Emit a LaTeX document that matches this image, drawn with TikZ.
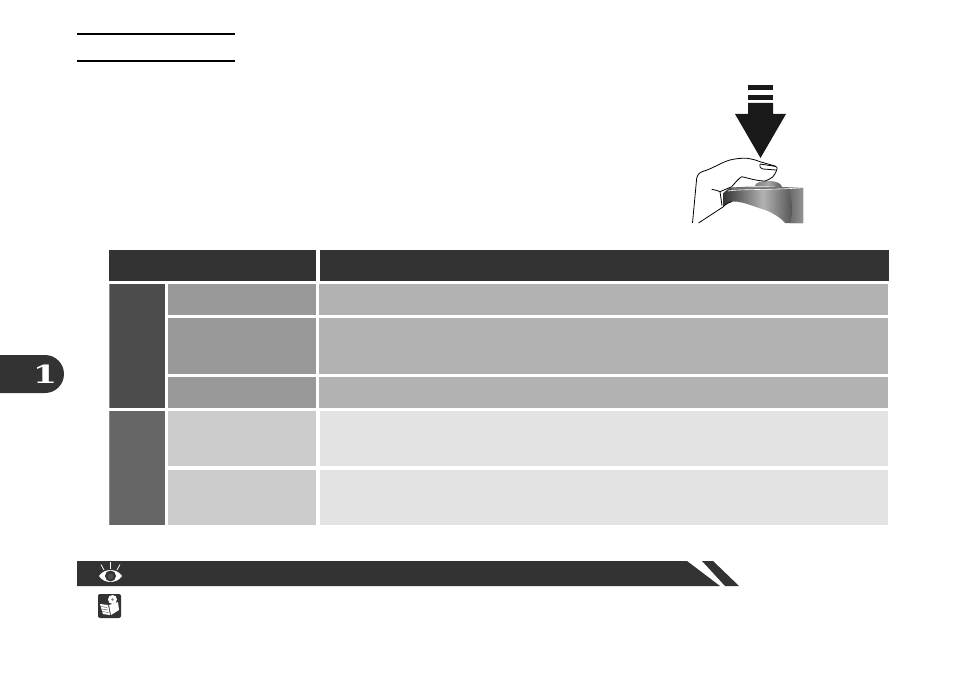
\documentclass[tikz,border=0pt]{standalone}
\usepackage{tikz}
\usepackage{fontspec}
\usetikzlibrary{positioning}
\newfontfamily\tabfont{DejaVu Serif}
\definecolor{headgray}{gray}{0.2}
\definecolor{groupa}{gray}{0.3}
\definecolor{groupb}{gray}{0.4}
\definecolor{labela}{gray}{0.6}
\definecolor{texta}{gray}{0.7}
\definecolor{labelb}{gray}{0.8}
\definecolor{textb}{gray}{0.89}
\tikzset{
	cell/.style ={rectangle, inner sep=0pt, outer sep=0pt},
	head_cell/.style ={cell, fill=headgray, minimum height=31pt},
	group_cell/.style ={cell, fill=#1, minimum width=56pt},
	label_cell/.style ={cell, fill=#1, minimum width=148pt},
	text_cell/.style ={cell, fill=#1, minimum width=569pt},
	rule/.style ={draw=black, line width=2pt},
	handline/.style ={draw=black, line width=0.8pt, line join=round},
}
\begin{document}
\begin{tikzpicture}[x=1pt,y=-1pt]
	\useasboundingbox (0,0) rectangle (954,677);
	% rules at the top
	\coordinate (ruleA) at (77,34);
	\coordinate (ruleB) at (235,34);
	\coordinate (ruleC) at (77,60.7);
	\coordinate (ruleD) at (235,60.7);
	\draw[rule] (ruleA) -- (ruleB);
	\draw[rule] (ruleC) -- (ruleD);
	% arrow
	\fill[black!90] (748,85) rectangle (773,90);
	\fill[black!90] (748,95) rectangle (773,100);
	\fill[black!90] (748,103) -- (773,103) -- (773,114) -- (786,114) -- (760.5,158) -- (735,114) -- (748,114) -- cycle;
	% camera
	\shade[left color=black!80, right color=black!80, middle color=black!30]
		(723,192) .. controls (726,189) and (729,188) .. (732,187.5) -- (750,186.5) -- (783,187) -- (803,188)
		-- (803,223) -- (785,223) .. controls (781,218) and (772,212) .. (762,209)
		.. controls (752,206) and (742,201) .. (732,201.5) .. controls (729,202) and (726,204) .. (723,207) -- cycle;
	\shade[left color=black!60, right color=black!42] (788,189) -- (803,188) -- (803,223) -- (790,223) .. controls (794,210) and (792,198) .. (788,189) -- cycle;
	\fill[black!55] (732,188) -- (783,187) -- (783,189) -- (732,190) -- cycle;
	\shade[left color=black!50, right color=black!65, middle color=black!35] (755,186) .. controls (755,183) and (760,181) .. (768,181) .. controls (776,181) and (781,183) .. (782,187) -- cycle;
	\draw[white, line width=0.6pt] (728,191) .. controls (740,189) and (770,190) .. (800,188);
	% hand
	\fill[white] (693,223) -- (696.7,178) .. controls (698,174) and (700,172) .. (702,171.7)
		.. controls (712,169) and (722,162) .. (730,160) .. controls (736,158.5) and (742,158) .. (747,158.3)
		.. controls (752,159) and (756,160) .. (760,161.7) -- (775,166) .. controls (777,167) and (777.5,168) .. (777,169)
		.. controls (776,173) and (774,175) .. (773,176.7) .. controls (770,179) and (768,180) .. (765,181)
		-- (742,177) -- (722,194) -- (723,207) -- (699,223) -- cycle;
	\draw[handline] (692.5,223) -- (696.7,178) .. controls (698,174) and (700,172) .. (702,171.7)
		.. controls (712,169) and (722,162) .. (730,160) .. controls (736,158.5) and (742,158) .. (747,158.3)
		.. controls (752,159) and (756,160) .. (760,161.7) -- (775,166) .. controls (777,167) and (777.5,168) .. (777,169)
		.. controls (776,173) and (774,175) .. (773,176.7) .. controls (770,179) and (768,180) .. (765,181)
		.. controls (757,181) and (748,178) .. (741.7,176.7) .. controls (738,179) and (735,183) .. (731.7,186.7);
	\draw[handline] (760,164) -- (776,166.5);
	\draw[handline] (760,164) .. controls (759,166) and (760,168) .. (763,169) -- (776,170);
	\draw[handline] (711.7,189.3) .. controls (715,190) and (718,190.5) .. (720,191.7) -- (722,205.5);
	\draw[handline] (698.5,223) -- (723,207) .. controls (726,204) and (729,202) .. (732,201.5);
	\draw[handline] (720,191.7) -- (731.7,186.7);
	% table
	\node[head_cell, minimum width=207pt, anchor=north west] (headLeft) at (109,250) {};
	\node[head_cell, minimum width=569pt, right=4pt of headLeft] (headRight) {};
	\node[group_cell=groupa, minimum height=124pt, anchor=north west] (groupOne) at (109,284) {};
	\node[group_cell=groupb, minimum height=114pt, below=3pt of groupOne] (groupTwo) {};
	\node[label_cell=labela, minimum height=31pt, anchor=north west] (labelOne) at (168,284) {};
	\node[label_cell=labela, minimum height=56pt, below=3pt of labelOne] (labelTwo) {};
	\node[label_cell=labela, minimum height=31pt, below=3pt of labelTwo] (labelThree) {};
	\node[label_cell=labelb, minimum height=55pt, below=3pt of labelThree] (labelFour) {};
	\node[label_cell=labelb, minimum height=55pt, below=4pt of labelFour] (labelFive) {};
	\node[text_cell=texta, minimum height=31pt, right=3pt of labelOne] (textOne) {};
	\node[text_cell=texta, minimum height=56pt, right=3pt of labelTwo] (textTwo) {};
	\node[text_cell=texta, minimum height=31pt, right=3pt of labelThree] (textThree) {};
	\node[text_cell=textb, minimum height=55pt, minimum width=568pt, right=4pt of labelFour] (textFour) {};
	\node[text_cell=textb, minimum height=55pt, minimum width=568pt, right=4pt of labelFive] (textFive) {};
	\draw[black!45, line width=1pt] ([xshift=0.5pt]groupOne.north west) -- ([xshift=0.5pt]groupOne.south west);
	\draw[black!45, line width=1pt] ([xshift=0.5pt]groupTwo.north west) -- ([xshift=0.5pt]groupTwo.south west);
	% tab with the chapter number
	\fill[headgray] (0,355) -- (45,355) arc (-90:90:19) -- (0,393) -- cycle;
	\node[text=white, font=\tabfont\bfseries\fontsize{25}{25}\selectfont, inner sep=0pt, xscale=1.4] (chapterNum) at (45,374) {1};
	% band at the bottom
	\fill[headgray] (77,561) -- (687,561) -- (720,586) -- (77,586) -- cycle;
	\fill[headgray] (702,561) -- (713,561) -- (739,586) -- (725,586) -- cycle;
	% eye
	\fill[white] (99,576) .. controls (104,568) and (117,568) .. (122,576) .. controls (117,584) and (104,584) .. (99,576) -- cycle;
	\fill[headgray] (110.5,576) circle (5.5);
	\fill[black!70] (110.5,576.5) circle (3);
	\draw[white, line width=0.8pt] (110,562) -- (110,569);
	\draw[white, line width=0.8pt] (101,564.5) -- (104,570);
	\draw[white, line width=0.8pt] (120,564.5) -- (117,570);
	% note icon
	\fill[headgray, rounded corners=2pt] (98,594) rectangle (121,618);
	\fill[white] (100,604) -- (108,605) -- (110,615) -- (103,614) -- cycle;
	\fill[white] (109,605) -- (118,602) -- (119,610) -- (111,615) -- cycle;
	\draw[headgray, line width=0.4pt] (101,606.5) -- (107,607.5);
	\draw[headgray, line width=0.4pt] (102,609) -- (108,610);
	\draw[headgray, line width=0.4pt] (102.5,611.5) -- (108.5,612.5);
	\fill[white] (112.5,599.5) circle (4.5);
	\fill[black!50] (112.5,599.5) circle (1.3);
\end{tikzpicture}
\end{document}
